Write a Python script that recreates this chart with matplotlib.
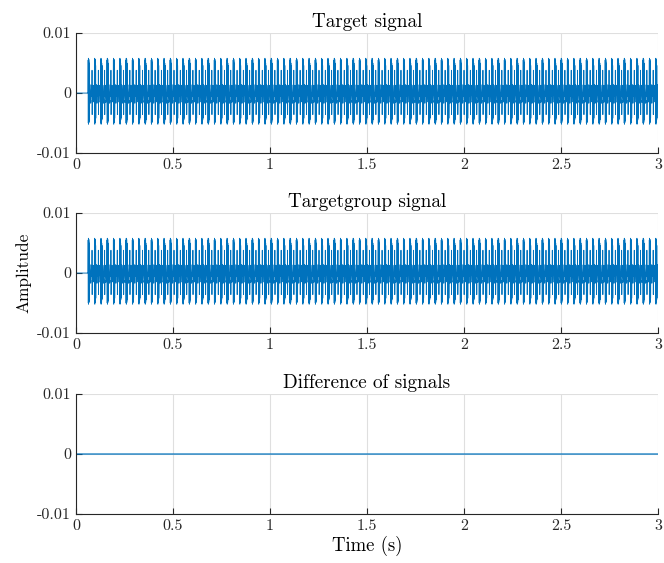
import numpy as np
import matplotlib
matplotlib.use('Agg')
import matplotlib.pyplot as plt

plt.rcParams['font.family'] = 'serif'
plt.rcParams['font.serif'] = ['cmr10', 'DejaVu Serif']
plt.rcParams['mathtext.fontset'] = 'cm'
plt.rcParams['axes.unicode_minus'] = False
plt.rcParams['axes.formatter.use_mathtext'] = True

# Signal settings
duration = 3.0
onset = 0.062          # signal starts here, flat zero before
fs = 1600              # samples per second of the template

# One period: a short burst of large swings, then a slower wiggle around zero
burst = [0.0055, -0.0050, 0.0058, -0.0052, 0.0053, -0.0047, 0.0056, -0.0049,
         0.0050, -0.0045, 0.0046, -0.0042]
band = [0.0002, 0.0008, 0.0012, 0.0014, 0.0011, 0.0006, 0.0000, -0.0007,
        -0.0013, -0.0017, -0.0014, -0.0008, -0.0002, 0.0005, 0.0010, 0.0013,
        0.0012, 0.0007, 0.0001, -0.0006, -0.0012, -0.0016, -0.0015, -0.0009,
        -0.0003, 0.0004, 0.0009, 0.0013, 0.0011, 0.0006, 0.0000, -0.0006,
        -0.0011, -0.0015, -0.0012, -0.0006, -0.0001, 0.0003]
weak = [0.0038, -0.0036]
block = burst + band[:20] + weak + band[20:]

t = np.arange(0, duration, 1.0 / fs)
target = np.zeros_like(t)
active = t >= onset
n_active = active.sum()
reps = int(np.ceil(n_active / len(block)))
target[active] = np.tile(block, reps)[:n_active]
targetgroup = target.copy()
difference = target - targetgroup

titles = ['Target signal', 'Targetgroup signal', 'Difference of signals']
signals = [target, targetgroup, difference]
xticks = [0, 0.5, 1, 1.5, 2, 2.5, 3]
xticklabels = ['0', '0.5', '1', '1.5', '2', '2.5', '3']
yticks = [-0.01, 0, 0.01]
yticklabels = ['-0.01', '0', '0.01']

fig = plt.figure(figsize=(6.64, 5.63), dpi=100)
bottoms = [0.7282, 0.4085, 0.0870]
for i, (ttl, sig) in enumerate(zip(titles, signals)):
    ax = fig.add_axes([0.1145, bottoms[i], 0.8765, 0.2131])
    ax.plot(t, sig, color='#0072BD', linewidth=0.6 if i < 2 else 0.9)
    ax.set_xlim(0, 3)
    ax.set_ylim(-0.01, 0.01)
    ax.set_xticks(xticks)
    ax.set_xticklabels(xticklabels)
    ax.set_yticks(yticks)
    ax.set_yticklabels(yticklabels)
    ax.set_title(ttl, fontsize=13.8, pad=4)
    ax.grid(True, color='#dfdfdf', linewidth=0.8)
    ax.set_axisbelow(True)
    for s in ['top', 'right']:
        ax.spines[s].set_visible(False)
    for s in ['left', 'bottom']:
        ax.spines[s].set_color('#262626')
        ax.spines[s].set_linewidth(0.8)
    ax.tick_params(direction='in', length=4, width=0.8, colors='#262626', labelsize=11.5)
    if i == 1:
        ax.set_ylabel('Amplitude', fontsize=12.5, labelpad=4)
    if i == 2:
        ax.set_xlabel('Time (s)', fontsize=13.5, labelpad=2)

fig.savefig('out.png', dpi=100)
